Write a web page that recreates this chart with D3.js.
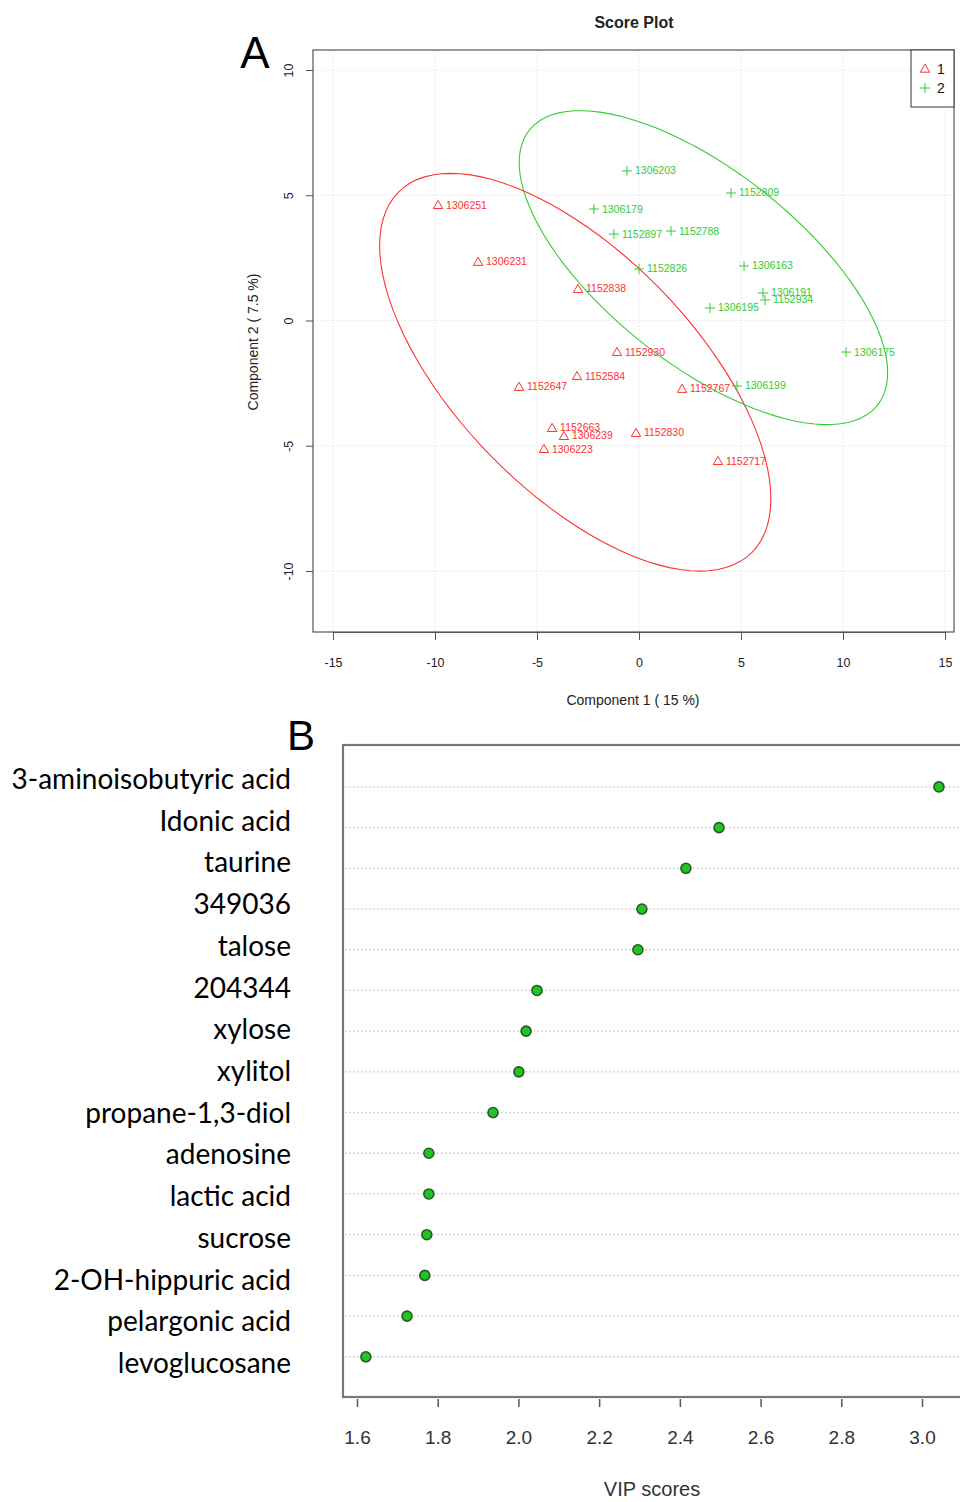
<!DOCTYPE html>
<html>
<head>
<meta charset="utf-8">
<script src="https://cdn.jsdelivr.net/npm/d3@7"></script>
<style>
  body { margin: 0; background: #fff; }
  svg { display: block; }
</style>
</head>
<body>
<svg id="chart" width="960" height="1502"></svg>
<script>
// ---- panel A: PLS-DA score plot ----
var group1Ids = ["1306251", "1306231", "1152838", "1152930", "1152584", "1152647", "1152663", "1306239", "1306223", "1152830", "1152767", "1152717"];
var group1X = [-9.85, -7.89, -2.99, -1.08, -3.04, -5.88, -4.26, -3.68, -4.66, -0.15, 2.11, 3.87];
var group1Y = [4.61, 2.34, 1.26, -1.26, -2.22, -2.65, -4.29, -4.61, -5.13, -4.49, -2.73, -5.61];

var group2Ids = ["1306203", "1152809", "1306179", "1152897", "1152788", "1152826", "1306163", "1306191", "1152934", "1306195", "1306175", "1306199"];
var group2X = [-0.59, 4.51, -2.21, -1.23, 1.57, 0.0, 5.15, 6.08, 6.18, 3.48, 10.15, 4.80];
var group2Y = [5.97, 5.09, 4.45, 3.45, 3.57, 2.06, 2.18, 1.10, 0.82, 0.50, -1.26, -2.61];

var scoreXTicks = [-15, -10, -5, 0, 5, 10, 15];
var scoreYTicks = [-10, -5, 0, 5, 10];

// ---- panel B: VIP scores ----
var vipNames = ["3-aminoisobutyric acid", "Idonic acid", "taurine", "349036", "talose", "204344", "xylose", "xylitol", "propane-1,3-diol", "adenosine", "lactic acid", "sucrose", "2-OH-hippuric acid", "pelargonic acid", "levoglucosane"];
var vipScores = [3.042, 2.497, 2.415, 2.306, 2.296, 2.046, 2.019, 2.001, 1.937, 1.778, 1.778, 1.773, 1.768, 1.724, 1.622];
var vipTicks = [1.6, 1.8, 2.0, 2.2, 2.4, 2.6, 2.8, 3.0];

var red = "#ff3030", green = "#33cc33";
var svg = d3.select("#chart");

// ===== Panel A =====
var boxA = { left: 313, right: 954, top: 50, bottom: 632 };
var x = d3.scaleLinear().domain([-15, 15]).range([333, 945]);
var y = d3.scaleLinear().domain([-10, 10]).range([571, 70]);

var gA = svg.append("g").style("font-family", "'Liberation Sans', Arial, sans-serif");

// dotted grid
gA.selectAll("line.gx").data(scoreXTicks).enter().append("line")
  .attr("x1", d => x(d)).attr("x2", d => x(d))
  .attr("y1", boxA.top).attr("y2", boxA.bottom)
  .attr("stroke", "#d8d8d8").attr("stroke-dasharray", "1,3");
gA.selectAll("line.gy").data(scoreYTicks).enter().append("line")
  .attr("y1", d => y(d)).attr("y2", d => y(d))
  .attr("x1", boxA.left).attr("x2", boxA.right)
  .attr("stroke", "#d8d8d8").attr("stroke-dasharray", "1,3");

// 95% confidence ellipses computed from each group
function ellipsePath(xs, ys) {
  var n = xs.length, mx = d3.mean(xs), my = d3.mean(ys);
  var sxx = 0, syy = 0, sxy = 0;
  for (var i = 0; i < n; i++) {
    sxx += (xs[i] - mx) * (xs[i] - mx);
    syy += (ys[i] - my) * (ys[i] - my);
    sxy += (xs[i] - mx) * (ys[i] - my);
  }
  sxx /= n - 1; syy /= n - 1; sxy /= n - 1;
  var t = Math.sqrt(5.991);
  var r = sxy / Math.sqrt(sxx * syy);
  var d = Math.acos(r);
  var pts = [];
  for (var k = 0; k <= 100; k++) {
    var a = -Math.PI + 2 * Math.PI * k / 100;
    pts.push([x(mx + t * Math.sqrt(sxx) * Math.cos(a + d / 2)),
              y(my + t * Math.sqrt(syy) * Math.cos(a - d / 2))]);
  }
  return d3.line()(pts) + "Z";
}
gA.append("path").attr("d", ellipsePath(group1X, group1Y))
  .attr("fill", "none").attr("stroke", red).attr("stroke-width", 1.1);
gA.append("path").attr("d", ellipsePath(group2X, group2Y))
  .attr("fill", "none").attr("stroke", green).attr("stroke-width", 1.1);

// points
var g1 = group1Ids.map((id, i) => ({ id: id, x: group1X[i], y: group1Y[i] }));
var g2 = group2Ids.map((id, i) => ({ id: id, x: group2X[i], y: group2Y[i] }));
var tri = d3.symbol().type(d3.symbolTriangle).size(38);

gA.selectAll("path.p1").data(g1).enter().append("path")
  .attr("d", tri)
  .attr("transform", d => `translate(${x(d.x)},${y(d.y) + 0.8})`)
  .attr("fill", "none").attr("stroke", red).attr("stroke-width", 1);
gA.selectAll("text.l1").data(g1).enter().append("text")
  .attr("x", d => x(d.x) + 8).attr("y", d => y(d.y) + 3.5)
  .attr("font-size", 10.5).attr("fill", red).text(d => d.id);

gA.selectAll("path.p2").data(g2).enter().append("path")
  .attr("d", d => `M${x(d.x) - 5},${y(d.y)}H${x(d.x) + 5}M${x(d.x)},${y(d.y) - 5}V${y(d.y) + 5}`)
  .attr("stroke", green).attr("stroke-width", 1);
gA.selectAll("text.l2").data(g2).enter().append("text")
  .attr("x", d => x(d.x) + 8).attr("y", d => y(d.y) + 3.5)
  .attr("font-size", 10.5).attr("fill", green).text(d => d.id);

// box
gA.append("rect")
  .attr("x", boxA.left).attr("y", boxA.top)
  .attr("width", boxA.right - boxA.left).attr("height", boxA.bottom - boxA.top)
  .attr("fill", "none").attr("stroke", "#555").attr("stroke-width", 1.2);

// axes
var axB = gA.append("g").attr("transform", `translate(0,${boxA.bottom})`)
  .call(d3.axisBottom(x).tickValues(scoreXTicks).tickSize(8).tickPadding(18).tickFormat(d => String(d)));
axB.select(".domain").attr("stroke", "#555");
axB.selectAll(".tick line").attr("stroke", "#555");
axB.selectAll("text").attr("font-size", 12.5).attr("fill", "#222").attr("font-family", "'Liberation Sans', Arial, sans-serif");

var axL = gA.append("g").attr("transform", `translate(${boxA.left},0)`)
  .call(d3.axisLeft(y).tickValues(scoreYTicks).tickSize(7).tickFormat(d => String(d)));
axL.select(".domain").remove();
axL.selectAll(".tick line").attr("stroke", "#555");
axL.selectAll("text")
  .attr("font-size", 12.5).attr("fill", "#222").attr("font-family", "'Liberation Sans', Arial, sans-serif")
  .attr("x", null).attr("dy", null)
  .attr("text-anchor", "middle")
  .attr("transform", "translate(-20,0) rotate(-90)");

gA.append("text").attr("x", 634).attr("y", 28).attr("text-anchor", "middle")
  .attr("font-size", 16).attr("font-weight", "bold").attr("fill", "#222").text("Score Plot");
gA.append("text").attr("x", 633).attr("y", 705).attr("text-anchor", "middle")
  .attr("font-size", 14).attr("fill", "#222").text("Component 1 ( 15 %)");
gA.append("text").attr("transform", "translate(258,342) rotate(-90)").attr("text-anchor", "middle")
  .attr("font-size", 14).attr("fill", "#222").text("Component 2 ( 7.5 %)");
gA.append("text").attr("x", 255).attr("y", 68).attr("text-anchor", "middle")
  .attr("font-size", 44).attr("fill", "#000").text("A");

// legend
var leg = gA.append("g");
leg.append("rect").attr("x", 911).attr("y", boxA.top).attr("width", boxA.right - 911).attr("height", 57)
  .attr("fill", "#fff").attr("stroke", "#333").attr("stroke-width", 1);
leg.append("path").attr("d", tri).attr("transform", "translate(925,69.5)")
  .attr("fill", "none").attr("stroke", red);
leg.append("path").attr("d", "M920,88H930M925,83V93").attr("stroke", green);
leg.append("text").attr("x", 937).attr("y", 74).attr("font-size", 14).attr("fill", "#111").text("1");
leg.append("text").attr("x", 937).attr("y", 93).attr("font-size", 14).attr("fill", "#111").text("2");

// ===== Panel B =====
var boxB = { left: 343, right: 964, top: 745, bottom: 1397 };
var vx = d3.scaleLinear().domain([1.6, 3.0]).range([357, 922]);
var vy = d3.scaleLinear().domain([0, 16]).range([1397.5, 746.2]);
var rows = vipNames.map((n, i) => ({ name: n, v: vipScores[i], row: vipNames.length - i }));

var gB = svg.append("g");

gB.selectAll("line.rowgrid").data(rows).enter().append("line")
  .attr("x1", boxB.left + 2).attr("x2", boxB.right)
  .attr("y1", d => vy(d.row)).attr("y2", d => vy(d.row))
  .attr("stroke", "#d4d4d4").attr("stroke-width", 1.3).attr("stroke-dasharray", "2,2");

gB.selectAll("circle").data(rows).enter().append("circle")
  .attr("cx", d => vx(d.v)).attr("cy", d => vy(d.row)).attr("r", 5)
  .attr("fill", "#22c322").attr("stroke", "#235d23").attr("stroke-width", 1.6);

gB.append("rect")
  .attr("x", boxB.left).attr("y", boxB.top)
  .attr("width", boxB.right - boxB.left).attr("height", boxB.bottom - boxB.top)
  .attr("fill", "none").attr("stroke", "#777").attr("stroke-width", 2.2);

var axV = gB.append("g").attr("transform", `translate(0,${boxB.bottom + 2})`)
  .call(d3.axisBottom(vx).tickValues(vipTicks).tickSize(8).tickPadding(24).tickFormat(d3.format(".1f")));
axV.select(".domain").remove();
axV.selectAll(".tick line").attr("stroke", "#555").attr("stroke-width", 1.5);
axV.selectAll("text").attr("font-size", 19).attr("fill", "#333")
  .attr("font-family", "'Liberation Sans', Arial, sans-serif");

gB.append("text").attr("x", 652).attr("y", 1496).attr("text-anchor", "middle")
  .attr("font-family", "'Liberation Sans', Arial, sans-serif")
  .attr("font-size", 20).attr("fill", "#333").text("VIP scores");
gB.append("text").attr("x", 301).attr("y", 750).attr("text-anchor", "middle")
  .attr("font-family", "'Liberation Sans', Arial, sans-serif")
  .attr("font-size", 42).attr("fill", "#000").text("B");

// compound names, set as a separate column left of the plot
var ly = d3.scalePoint().domain(vipNames).range([780, 1364]);
gB.selectAll("text.name").data(vipNames).enter().append("text")
  .attr("x", 291).attr("y", d => ly(d) + 9)
  .attr("text-anchor", "end")
  .attr("font-family", "Lato, 'Open Sans', sans-serif")
  .attr("font-size", 28).attr("fill", "#000").text(d => d);
</script>
</body>
</html>
